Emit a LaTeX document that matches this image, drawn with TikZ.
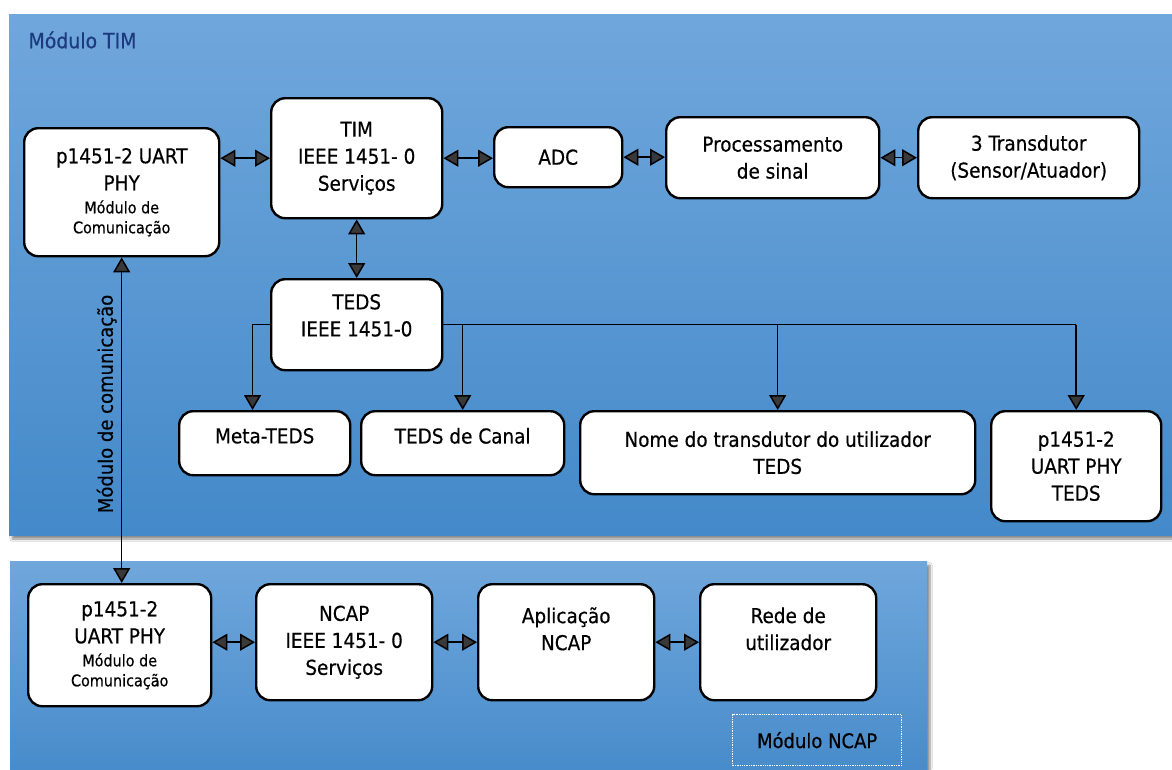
\documentclass[tikz,border=0pt]{standalone}
\usepackage{fontspec}
\IfFontExistsTF{DejaVu Sans Condensed}
  {\setmainfont{DejaVu Sans Condensed}[FakeBold=0.45]}
  {\setmainfont{PT Sans}}
\usetikzlibrary{arrows.meta,calc,shadows.blur}

\definecolor{paneltop}{RGB}{112,167,220}
\definecolor{panelbot}{RGB}{68,137,201}
\definecolor{titlenavy}{RGB}{28,58,125}

\tikzset{
  >={Triangle[length=15pt,width=17pt]},
  panel/.style={top color=paneltop, bottom color=panelbot, draw=none,
    blur shadow={shadow xshift=3pt, shadow yshift=-4pt, shadow blur steps=6, shadow opacity=45}},
  box/.style={draw=black, fill=white, line width=2.4pt, rounded corners=14pt,
    anchor=north west, align=center, inner sep=2pt,
    font=\fontsize{20.5}{27}\selectfont},
  dbl/.style={<->, line width=1.5pt},
  arr/.style={->, line width=1.5pt},
  plain/.style={line width=1.5pt},
}
\newcommand{\smalltext}[1]{{\fontsize{16}{20}\selectfont #1}}

\begin{document}
\begin{tikzpicture}[x=1pt,y=-1pt]
\useasboundingbox (0,0) rectangle (1172,769);
\fill[white] (0,0) rectangle (1172,769);

% panels
\path[panel] (9,14) rectangle (1180,535);
\path[panel] (10,561) rectangle (927,790);

\node[anchor=west, text=titlenavy, font=\fontsize{21}{24}\selectfont] (timlbl) at (25,40) {Módulo TIM};

% TIM module blocks
\node[box, minimum width=195, minimum height=128] (uart) at (23,127)
  {p1451-2 UART\\PHY\\[-4pt]\smalltext{Módulo de}\\[-7pt]\smalltext{Comunicação}};
\node[box, minimum width=171, minimum height=120] (tim) at (270,97)
  {TIM\\IEEE 1451- 0\\Serviços};
\node[box, minimum width=128, minimum height=60] (adc) at (493,126) {ADC};
\node[box, minimum width=213, minimum height=81] (proc) at (665,116)
  {Processamento\\de sinal};
\node[box, minimum width=221, minimum height=81] (trans) at (917,116)
  {3 Transdutor\\(Sensor/Atuador)};
\node[box, minimum width=171, minimum height=91] (teds) at (270,278)
  {TEDS\\IEEE 1451-0\\[-8pt]\mbox{}};
\node[box, minimum width=171, minimum height=64] (meta) at (178,410)
  {Meta-TEDS\\[-12pt]\mbox{}};
\node[box, minimum width=203, minimum height=64] (canal) at (360,410)
  {TEDS de Canal\\[-12pt]\mbox{}};
\node[box, minimum width=395, minimum height=83] (nome) at (579,410)
  {Nome do transdutor do utilizador\\TEDS};
\node[box, minimum width=170, minimum height=110] (ptd) at (990,410)
  {p1451-2\\UART PHY\\TEDS};

% NCAP module blocks
\node[box, minimum width=183, minimum height=122] (uartn) at (27,583)
  {p1451-2\\UART PHY\\[-4pt]\smalltext{Módulo de}\\[-7pt]\smalltext{Comunicação}};
\node[box, minimum width=176, minimum height=116] (ncap) at (255,583)
  {NCAP\\IEEE 1451- 0\\Serviços};
\node[box, minimum width=176, minimum height=116] (aplic) at (477,583)
  {Aplicação\\NCAP\\\mbox{}};
\node[box, minimum width=176, minimum height=116] (rede) at (699,583)
  {Rede de\\utilizador\\\mbox{}};

\node[draw=white, densely dotted, line width=1.3pt, anchor=north west,
  minimum width=169, minimum height=51, font=\fontsize{20}{24}\selectfont] (ncaplbl)
  at (732,714) {Módulo NCAP};

% connectors in the TIM module
\draw[dbl] (tim.west) -- (tim.west -| uart.east);
\draw[dbl] (tim.east) -- (tim.east -| adc.west);
\draw[dbl] (adc.east) -- (adc.east -| proc.west);
\draw[dbl] (proc.east) -- (proc.east -| trans.west);
\draw[dbl] (tim.south) -- (teds.north);

\coordinate (metatop) at ($(meta.north west)!0.43!(meta.north east)$);
\draw[arr] (teds.west) -| (metatop);
\draw[plain] (teds.east) -- (teds.east -| ptd.north);
\draw[arr] (teds.east -| canal.north) -- (canal.north);
\draw[arr] (teds.east -| nome.north) -- (nome.north);
\draw[arr] (teds.east -| ptd.north) -- (ptd.north);

% link between the two modules
\draw[dbl] (uartn.north -| uart.south) -- (uart.south)
  node[pos=0.55, above=1pt, sloped, font=\fontsize{20}{24}\selectfont] {Módulo de comunicação};

% connectors in the NCAP module
\draw[dbl] (ncap.west) -- (ncap.west -| uartn.east);
\draw[dbl] (ncap.east) -- (ncap.east -| aplic.west);
\draw[dbl] (aplic.east) -- (aplic.east -| rede.west);
\end{tikzpicture}
\end{document}
